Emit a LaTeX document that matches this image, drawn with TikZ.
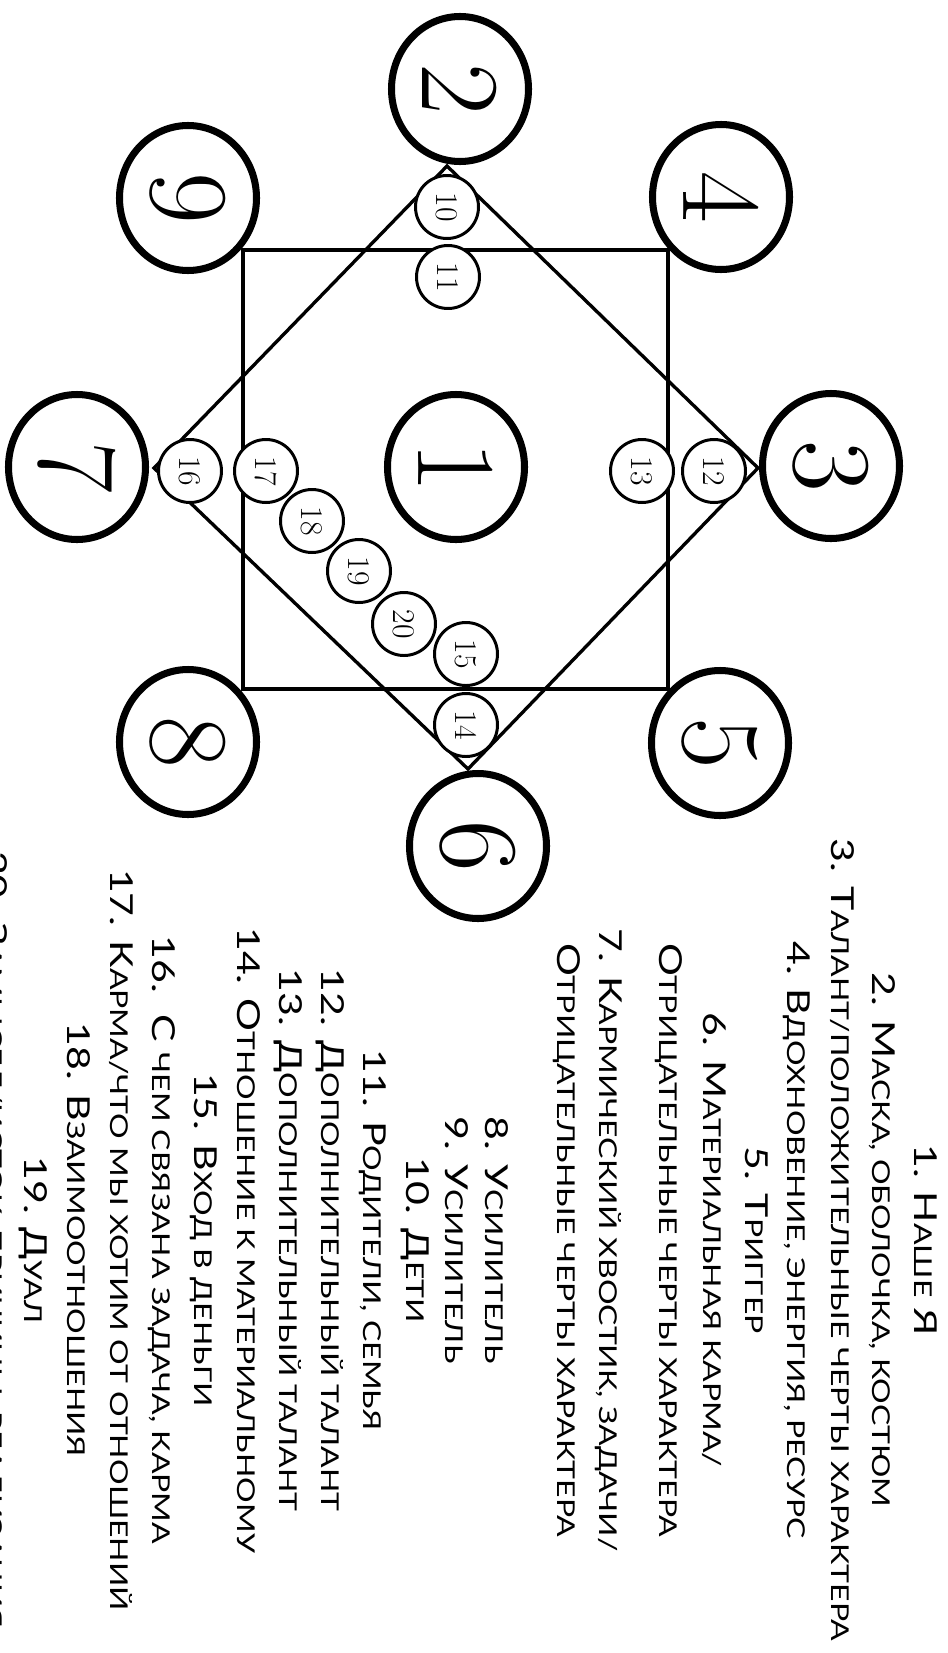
\documentclass[tikz,border=0pt]{standalone}
\usepackage{fontspec}
\usetikzlibrary{shapes.geometric}

\newfontfamily\legendfont{Lato}
\newcommand\lo[1]{{\fontsize{14}{17}\selectfont #1}}

\begin{document}
\begin{tikzpicture}[x = 0.02cm, y = -0.02cm,
	frame/.style = {line width = 1.9pt},
	bignum/.style = {ellipse, draw, line width = 4pt, fill = white, rotate = -90, inner sep = 0pt,
		minimum width = 145*0.02cm, minimum height = 137*0.02cm, font = \fontsize{64}{64}\selectfont},
	smallnum/.style = {circle, draw, line width = 1.7pt, fill = white, rotate = -90, inner sep = 0pt,
		minimum size = 63*0.02cm, font = \fontsize{18}{18}\selectfont},
	legend/.style = {rotate = -90, anchor = base, inner sep = 0pt, font = \legendfont\fontsize{18}{22}\selectfont}]

	% Page
	
	\useasboundingbox (0, 0) rectangle (947, 1653);
	\clip (0, 0) rectangle (947, 1653);
	
	% Square and diamond
	
	\coordinate (q1) at (243, 250);
	\coordinate (q2) at (668, 689);
	\coordinate (dt) at (447, 166);
	\coordinate (dr) at (758, 468);
	\coordinate (db) at (468, 769);
	\coordinate (dl) at (154, 468);
	
	\draw [frame] (q1) rectangle (q2);
	\draw [frame] (dt) -- (dr) -- (db) -- (dl) -- cycle;
	
	% Big circles
	
	\foreach \n/\x/\y in {1/456/467, 2/460/89, 3/831/466, 4/721/197, 5/720/743, 6/478/846, 7/77/467, 8/188/742, 9/188/198}
	{
		\node [bignum] (c\n) at (\x, \y) {\n};
	}
	
	% Small circles
	
	\foreach \n/\x/\y in {10/447/207, 11/448/277, 12/714/471, 13/642/471, 14/466/725, 15/466/654, 16/190/471, 17/266/471, 18/312/521, 19/359/571, 20/404/624}
	{
		\node [smallnum] (s\n) at (\x, \y) {\n};
	}
	
	% Legend
	
	\foreach \n/\xpos/\txt in {
		1/925/{1. Н\lo{АШЕ} Я},
		2/883/{2. М\lo{АСКА, ОБОЛОЧКА, КОСТЮМ}},
		3/842/{3. Т\lo{АЛАНТ/ПОЛОЖИТЕЛЬНЫЕ ЧЕРТЫ ХАРАКТЕРА}},
		4/798/{4. В\lo{ДОХНОВЕНИЕ, ЭНЕРГИЯ, РЕСУРС}},
		5/756/{5. Т\lo{РИГГЕР}},
		6/714/{6. М\lo{АТЕРИАЛЬНАЯ КАРМА/}},
		6b/670/{О\lo{ТРИЦАТЕЛЬНЫЕ ЧЕРТЫ ХАРАКТЕРА}},
		7/610/{7. К\lo{АРМИЧЕСКИЙ ХВОСТИК, ЗАДАЧИ/}},
		7b/568/{О\lo{ТРИЦАТЕЛЬНЫЕ ЧЕРТЫ ХАРАКТЕРА}},
		8/496/{8. У\lo{СИЛИТЕЛЬ}},
		9/456/{9. У\lo{СИЛИТЕЛЬ}},
		10/417/{10. Д\lo{ЕТИ}},
		11/374/{11. Р\lo{ОДИТЕЛИ, СЕМЬЯ}},
		12/332/{12. Д\lo{ОПОЛНИТЕЛЬНЫЙ ТАЛАНТ}},
		13/290/{13. Д\lo{ОПОЛНИТЕЛЬНЫЙ ТАЛАНТ}},
		14/248/{14. О\lo{ТНОШЕНИЕ К МАТЕРИАЛЬНОМУ}},
		15/205/{15. В\lo{ХОД В ДЕНЬГИ}},
		16/163/{16.\ \ С \lo{ЧЕМ СВЯЗАНА ЗАДАЧА, КАРМА}},
		17/121/{17. К\lo{АРМА/ЧТО МЫ ХОТИМ ОТ ОТНОШЕНИЙ}},
		18/78/{18. В\lo{ЗАИМООТНОШЕНИЯ}},
		19/36/{19. Д\lo{УАЛ}},
		20/-4/{20. З\lo{АМЫСЕЛ/ИСТОК, ПРИЧИНЫ, РЕАЛИЗАЦИЯ}}}
	{
		\node [legend] (l\n) at (\xpos - 11, 1240) {\scalebox{1.3}[1]{\txt}};
	}

\end{tikzpicture}
\end{document}
